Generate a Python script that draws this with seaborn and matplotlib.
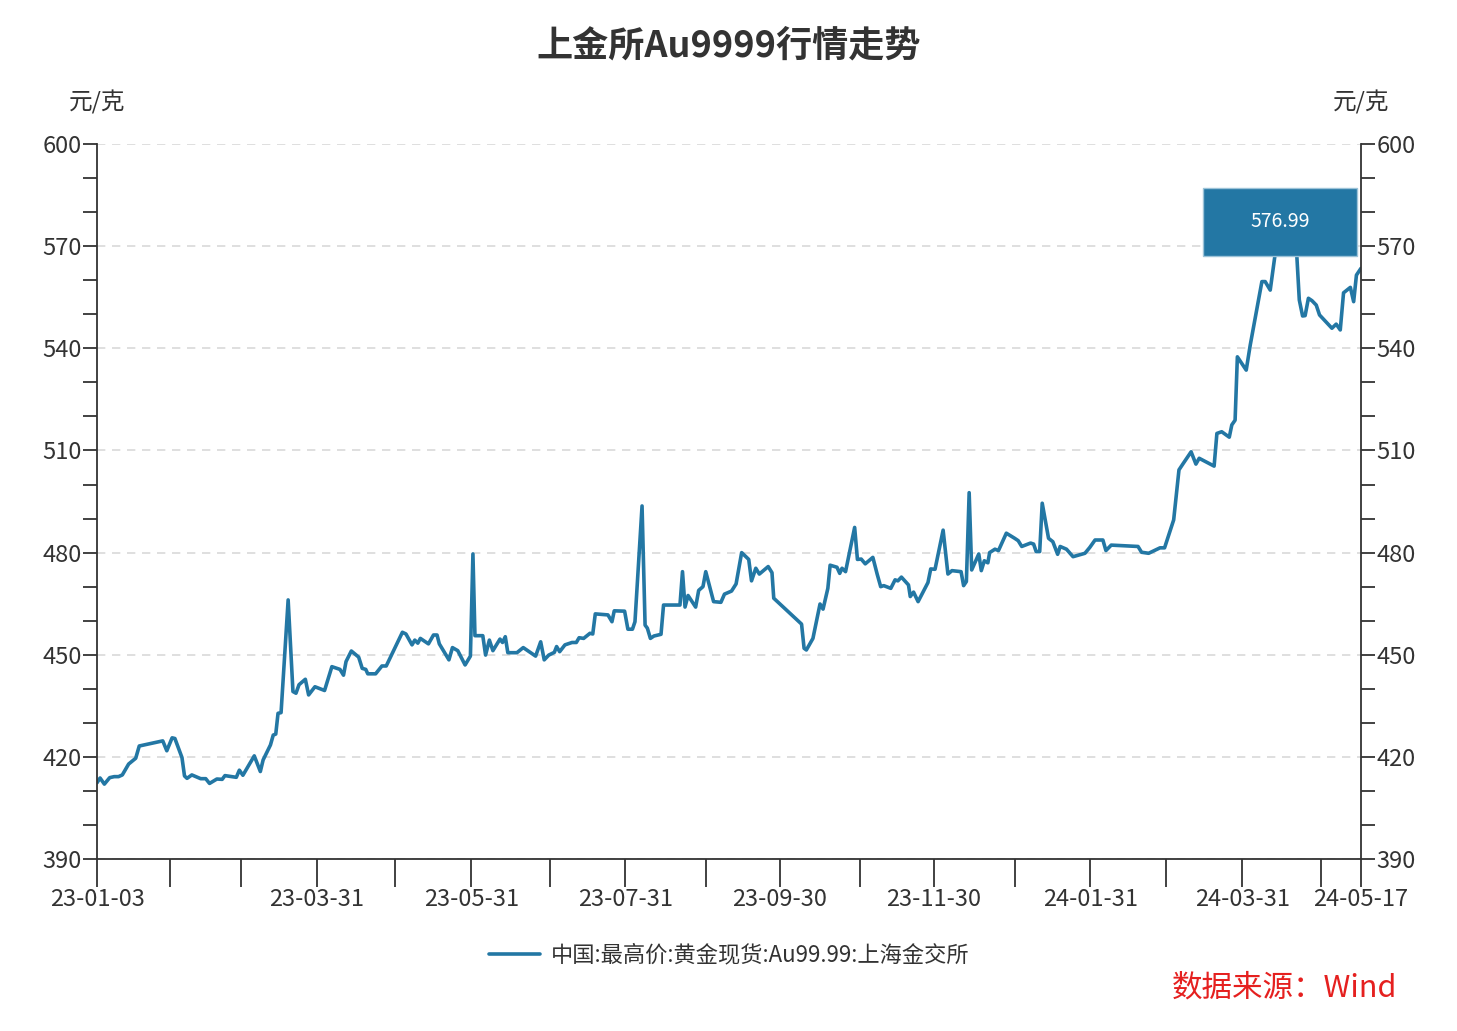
import matplotlib
matplotlib.use("Agg")
import matplotlib.pyplot as plt
import matplotlib.dates as mdates
from matplotlib.patches import Rectangle
from matplotlib.ticker import MultipleLocator
import seaborn as sns
import pandas as pd
import numpy as np

start_date = "2023-01-03"
day_offsets = [0,1.2,2.9,5,6.8,8.5,10,12.5,15.3,16.7,26,27.6,29.7,30.8,33.6,34.6,35.6,37.5,41,43,44.5,47.4,49.5,50.6,55.1,56.3,57.7,62.2,64.6,65.7,68.6,69.7,70.7,71.6,72.8,75.6,77.5,78.7,79.9,82.4,83.7,86.2,90,92.9,96.1,97.5,98.5,100.6,103.5,104.9,106.3,107.1,110.2,112.7,114.4,120.8,122.2,124.6,125.7,126.9,127.9,131.1,133.1,134.5,135.4,139.2,140.6,142.7,145.6,147.7,148.7,149.5,152.6,153.7,155.2,156.6,159.4,160.4,161.5,162.5,166.1,168.6,173.5,175.5,176.9,178.7,180.9,181.8,183,185.1,187.9,189.6,190.7,192.5,195,196.1,197.1,202.1,203.7,204.6,208.7,210,211.8,212.8,215.6,216.8,217.7,218.9,220.3,223.1,224.1,230.6,231.6,232.6,233.8,236.8,238,239.7,240.8,243.9,246.8,248.2,251,252.8,255,257.8,258.9,260.6,262,265.5,267,267.7,278.7,279.7,280.6,283.2,286,287.2,289.1,290,292.7,293.8,294.7,296.1,299.7,300.8,302.3,303.9,306.9,308.6,310,311.2,314,315.7,316.8,318.2,321,321.7,323,324.8,328.7,329.8,331.5,334.7,336.6,338.2,341.8,342.8,343.9,345,346,348.8,349.8,351,352.4,353.1,355.2,356.6,359.7,363,364.4,365.8,369.3,370.5,371.5,372.9,373.9,376.4,378.1,380,381,383.5,386.1,390.8,392.7,394.8,397.9,399.1,401.2,411.8,413.2,416,420.5,422.3,425.9,428,429.7,432.8,434.7,436,441.9,443,444.9,447.9,448.9,450.2,451.1,454.6,456.2,460.8,462.1,464.1,467.2,470,473.1,474.6,475.6,476.9,477.9,479.2,480.6,482.3,483.6,488.5,490.2,491.8,493.1,495.8,497.1,498.2,500]
prices = [412.4,413.8,412.0,413.9,414.2,414.2,414.7,417.9,419.6,423.2,424.7,421.8,425.6,425.4,419.8,414.4,413.7,414.7,413.6,413.6,412.2,413.5,413.4,414.5,414.0,416.1,414.6,420.3,415.7,419.1,423.5,426.4,426.7,432.8,433.0,466.1,439.2,438.7,441.2,442.8,438.2,440.6,439.5,446.5,445.7,444.0,448.0,451.1,449.3,446.0,445.7,444.4,444.4,446.7,446.7,456.6,456.1,452.9,454.3,453.4,454.8,453.2,455.8,455.8,453.2,448.5,452.1,451.2,447.0,449.6,479.6,455.6,455.6,449.9,454.3,451.2,454.6,453.6,455.3,450.6,450.6,452.1,449.6,453.8,448.5,449.9,450.7,452.4,450.9,452.9,453.6,453.6,455.0,454.8,456.3,456.1,462.0,461.7,459.7,462.9,462.8,457.5,457.5,459.7,493.7,458.7,457.8,454.8,455.5,456.0,464.6,464.6,474.4,464.0,467.4,464.0,468.9,470.0,474.4,465.6,465.4,467.8,468.7,470.8,480.0,478.0,471.7,475.4,473.7,475.9,474.1,466.6,459.0,451.9,451.4,454.8,464.9,463.4,469.5,476.3,475.7,473.9,475.4,474.4,487.4,478.0,478.1,476.7,478.6,473.7,470.0,470.3,469.5,472.0,471.7,472.8,470.5,467.1,468.4,465.6,471.2,475.2,475.1,486.6,473.7,474.7,474.4,470.3,471.5,497.6,474.9,479.6,474.7,477.6,477.0,480.0,481.0,480.6,485.7,484.2,483.5,481.8,482.8,482.5,480.3,480.3,494.5,484.2,483.2,479.5,481.8,481.0,478.8,479.8,481.5,483.7,483.7,480.6,482.2,481.8,480.1,479.8,481.4,481.4,489.6,504.3,506.2,509.6,506.0,507.7,505.4,515.0,515.5,513.9,517.5,518.9,537.5,533.6,541.0,559.6,559.6,557.1,574.0,576.99,573.0,567.4,554.2,549.5,549.6,554.7,554.0,552.7,549.8,545.9,547.1,545.4,556.3,557.9,553.7,561.5,563.5]
series_name = "中国:最高价:黄金现货:Au99.99:上海金交所"
tick_dates = ["2023-01-03","2023-03-31","2023-05-31","2023-07-31","2023-09-30","2023-11-30","2024-01-31","2024-03-31","2024-05-17"]
tick_labels = ["23-01-03","23-03-31","23-05-31","23-07-31","23-09-30","23-11-30","24-01-31","24-03-31","24-05-17"]
minor_dates = ["2023-02-01","2023-03-01","2023-05-01","2023-07-01","2023-09-01","2023-11-01","2024-01-01","2024-03-01","2024-05-01"]
peak_label = "576.99"

sns.set_theme(style="white")
plt.rcParams['font.family'] = ['Noto Sans CJK SC', 'DejaVu Sans']

color = "#2377a4"
df = pd.DataFrame({"date": pd.to_datetime(start_date) + pd.to_timedelta(day_offsets, unit="D"),
                   "price": prices})

fig = plt.figure(figsize=(14.57, 10.31), dpi=100)
ax = fig.add_axes([0.0666, 0.1668, 0.8675, 0.6935])
sns.lineplot(data=df, x="date", y="price", ax=ax, color=color, linewidth=2.6, label=series_name, legend=False)

xmin, xmax = pd.to_datetime(tick_dates[0]), pd.to_datetime(tick_dates[-1])
ax.set_xlim(xmin, xmax)
ax.set_ylim(390, 600)
ax.yaxis.set_major_locator(MultipleLocator(30))
ax.yaxis.set_minor_locator(MultipleLocator(10))
ax.set_xticks(pd.to_datetime(tick_dates))
ax.set_xticklabels(tick_labels)
ax.set_xticks(pd.to_datetime(minor_dates), minor=True)
ax.set_xlabel(""); ax.set_ylabel("")
ax.grid(axis="y", which="major", linestyle=(0, (5, 4)), color="#d9d9d9", linewidth=1.2)
for s in ["left", "right", "bottom"]:
    ax.spines[s].set_color("#333333"); ax.spines[s].set_linewidth(1.3)
ax.spines["top"].set_visible(False)
ax.tick_params(axis="y", which="both", direction="out", length=10, width=1.3, color="#333333",
               labelsize=17, labelcolor="#333333", pad=1, left=True)
ax.tick_params(axis="x", which="both", direction="out", length=20, width=1.3, color="#333333",
               labelsize=17, labelcolor="#333333", pad=1, bottom=True)

ax2 = ax.twinx()
ax2.set_ylim(390, 600)
ax2.yaxis.set_major_locator(MultipleLocator(30))
ax2.yaxis.set_minor_locator(MultipleLocator(10))
ax2.tick_params(axis="y", which="both", direction="out", length=10, width=1.3, color="#333333",
                labelsize=17, labelcolor="#333333", pad=1, right=True)
for s in ["left", "right", "bottom", "top"]:
    ax2.spines[s].set_visible(False)

# peak label box
pk = int(np.argmax(prices))
pdate = df["date"].iloc[pk]
rect = Rectangle((mdates.date2num(pdate - pd.Timedelta(days=32.5)), 567.1), 61, 20,
                 facecolor=color, edgecolor="#9cc3d8", linewidth=1, zorder=5)
ax.add_patch(rect)
ax.text(pdate - pd.Timedelta(days=2), 577.1, peak_label, ha="center", va="center",
        color="white", fontsize=14, zorder=6)

fig.text(0.5, 0.955, "上金所Au9999行情走势", ha="center", va="center", fontsize=26,
         fontweight="bold", color="#333333")
fig.text(0.0666, 0.901, "元/克", ha="center", va="center", fontsize=17, color="#333333")
fig.text(0.9341, 0.901, "元/克", ha="center", va="center", fontsize=17, color="#333333")
leg = ax.legend(loc="upper center", bbox_to_anchor=(0.5, -0.09), frameon=False, fontsize=16,
                handlelength=2.3, handletextpad=0.5)
for t in leg.get_texts():
    t.set_color("#333333")
fig.text(0.959, 0.042, "数据来源：Wind", ha="right", va="center", fontsize=22, color="#e5201f")

fig.savefig("out.png", dpi=100)
